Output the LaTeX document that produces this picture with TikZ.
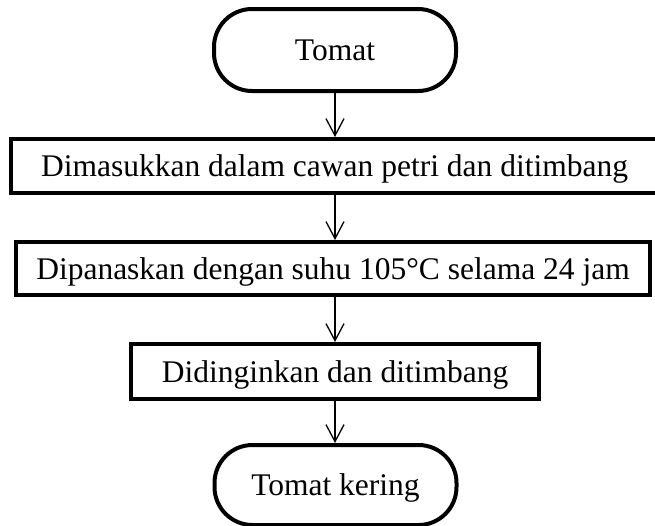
\documentclass[tikz,border=0pt]{standalone}
\usepackage{fontspec}
\setmainfont{Liberation Serif}
\usetikzlibrary{arrows.meta}
\tikzset{
    terminal/.style={draw, line width=4pt, rectangle, rounded corners=38pt, minimum width=242pt, minimum height=82pt, inner sep=0pt, text depth=0pt},
    process/.style={draw, line width=4pt, rectangle, inner sep=0pt, text depth=0pt},
    flow/.style={line width=1.3pt, -{Straight Barb[length=17pt, width=18pt, line width=1.3pt]}}
}

\begin{document}
\begin{tikzpicture}[x=1pt, y=-1pt, font=\fontsize{31.5}{36}\selectfont]
\useasboundingbox (0,0) rectangle (655,525);

\node[terminal] (tomat) at (335,50) {Tomat};
\node[process, minimum width=647pt, minimum height=54pt] (masuk) at (334.5,166) {Dimasukkan dalam cawan petri dan ditimbang};
\node[process, minimum width=634pt, minimum height=53pt] (panas) at (333,268.5) {Dipanaskan dengan suhu 105°C selama 24 jam};
\node[process, minimum width=408pt, minimum height=55pt] (dingin) at (335,371.5) {Didinginkan dan ditimbang};
\node[terminal, minimum height=80pt] (kering) at (335.5,485) {Tomat kering};

\draw[flow] (tomat.south) -- (tomat.south |- masuk.north);
\draw[flow] (tomat.south |- masuk.south) -- (tomat.south |- panas.north);
\draw[flow] (tomat.south |- panas.south) -- (tomat.south |- dingin.north);
\draw[flow] (dingin.south) -- (dingin.south |- kering.north);

\end{tikzpicture}
\end{document}
